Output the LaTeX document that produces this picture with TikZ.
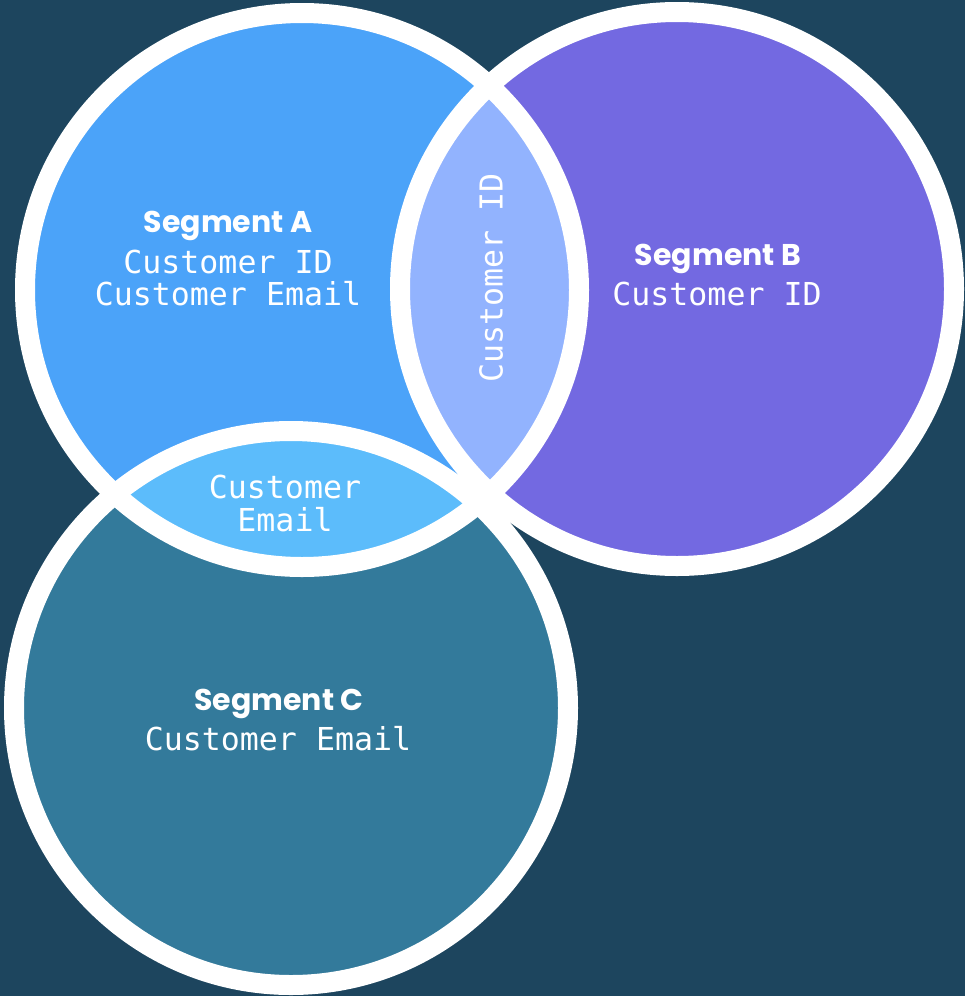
\documentclass[tikz,border=0pt]{standalone}
\usepackage{fontspec}
\setmonofont{DejaVu Sans Mono}
\newfontfamily\headfont{Poppins}
\definecolor{bgdark}{HTML}{1D455E}
\definecolor{segA}{HTML}{4BA3F9}
\definecolor{segB}{HTML}{7369E1}
\definecolor{segC}{HTML}{337A9B}
\definecolor{lensAB}{HTML}{92B3FE}
\definecolor{lensAC}{HTML}{5CBCFB}
\begin{document}
\begin{tikzpicture}[x=1pt,y=-1pt,
  ring/.style={draw=white, line width=20pt},
  head/.style={text=white, anchor=base, inner sep=0pt, font=\headfont\bfseries\fontsize{30}{30}\selectfont},
  field/.style={text=white, anchor=base, inner sep=0pt, font=\ttfamily\fontsize{31.6}{33}\selectfont}]
\fill[bgdark] (0,0) rectangle (965,996);
\useasboundingbox (0,0) rectangle (965,996);
% circle centres
\coordinate (cA) at (302,290);
\coordinate (cB) at (677,289);
\coordinate (cC) at (291,708);
\fill[segA] (cA) circle[radius=277pt];
\fill[segB] (cB) circle[radius=277pt];
\fill[segC] (cC) circle[radius=277pt];
% overlaps
\begin{scope}
\clip (cA) circle[radius=277pt];
\fill[lensAB] (cB) circle[radius=277pt];
\fill[lensAC] (cC) circle[radius=277pt];
\end{scope}
\draw[ring] (cA) circle[radius=277pt];
\draw[ring] (cB) circle[radius=277pt];
\draw[ring] (cC) circle[radius=277pt];
% labels
\node[head] (headA) at (228,232) {Segment A};
\node[field] (idA) at (228,273) {Customer ID};
\node[field] (emailA) at (228,305) {Customer Email};
\node[head] (headB) at (718,265) {Segment B};
\node[field] (idB) at (717,305) {Customer ID};
\node[head] (headC) at (279,710) {Segment C};
\node[field] (emailC) at (278,750) {Customer Email};
\node[field, anchor=center, rotate=90] (idAB) at (491,278) {Customer ID};
\node[field] (custAC) at (285,498) {Customer};
\node[field] (emailAC) at (285,531) {Email};
\end{tikzpicture}
\end{document}
